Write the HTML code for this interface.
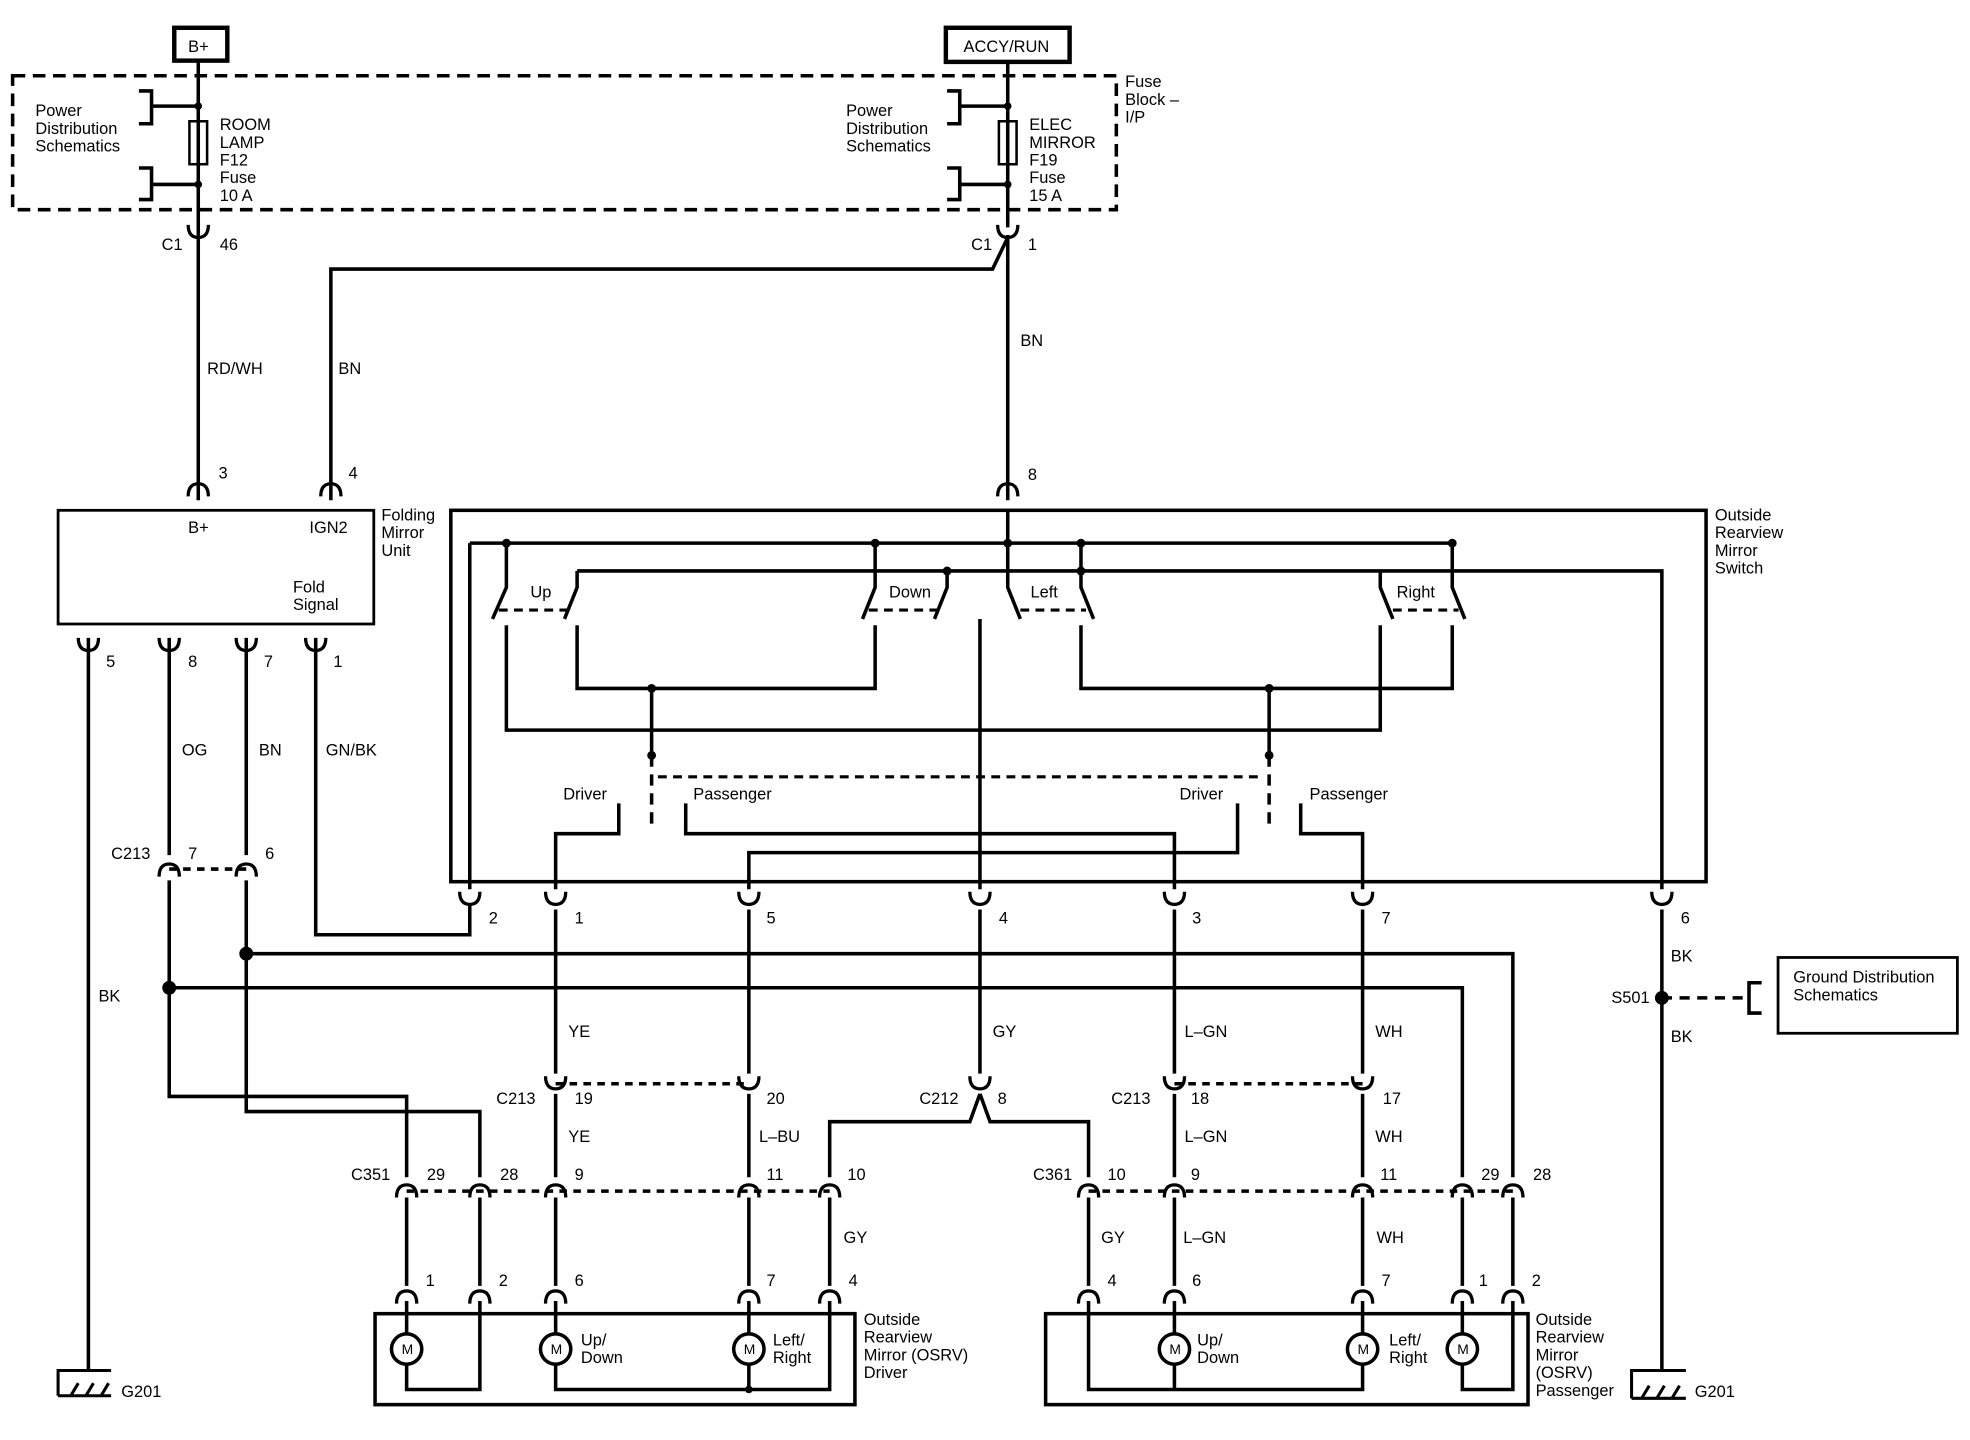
<!DOCTYPE html>
<html><head><meta charset="utf-8"><style>
html,body{margin:0;padding:0;background:#fff;}
svg{display:block}
text{font-family:"Liberation Sans",Arial,sans-serif;font-size:13px;fill:#000;}
</style></head><body>
<svg width="1970" height="1440" viewBox="0 0 1560 1140" preserveAspectRatio="none" xmlns="http://www.w3.org/2000/svg">
<defs>
<path id="cup" d="M-8,-8 Q-8,2 0,2 Q8,2 8,-8" fill="none" stroke="#000" stroke-width="2.6"/>
<path id="cap" d="M-8,8 Q-8,-2 0,-2 Q8,-2 8,8" fill="none" stroke="#000" stroke-width="2.6"/>
</defs>
<g fill="none" stroke="#000" stroke-width="2.8">
<!-- top boxes -->
<rect x="138" y="22" width="42" height="26" stroke-width="3.5"/>
<rect x="749" y="22" width="98" height="27" stroke-width="3.5"/>
<rect x="10" y="60" width="874" height="106" stroke-dasharray="10,6"/>
<!-- left fuse -->
<path d="M157 48V396"/>
<rect x="150" y="96" width="14" height="34" stroke-width="2"/>
<path d="M110 72H120V98H110M120 84H157M110 133H120V158H110M120 146H157"/>
<!-- right fuse -->
<path d="M798 49V180"/>
<rect x="791" y="96" width="14" height="34" stroke-width="2"/>
<path d="M750 72H760V98H750M760 84H798M750 133H760V158H750M760 146H798"/>
<path d="M798 186V396M798 188L786 213H262V396"/>
<!-- folding mirror unit -->
<rect x="46" y="404" width="250" height="90" stroke-width="2.2"/>
<path d="M70 505V1085M134 505V677M134 697V868H322V932M195 505V677M195 697V880H380V932M250 505V740H372V716"/>
<path d="M134 688H195" stroke-dasharray="6,5"/>
<path d="M134 782H1158V932M195 755H1198V932"/>
<!-- ground left -->
<path d="M46 1105V1085H88M46 1105H88M56 1105l6-10M68 1105l6-10M80 1105l6-10" stroke-width="2.4"/>
<!-- switch box -->
<rect x="357" y="404" width="994" height="294"/>
<path d="M372 430H1150M372 430V704"/>
<path d="M457 452H1316V704M1316 720V1085"/>
<!-- switch contacts -->
<path d="M401 430V465L390 490M457 452V465L447 490M401 495V578H1093V495M457 495V545H693V495"/>
<path d="M693 430V465L683 490M750 452V465L740 490M798 404V465L808 490M856 430V465L866 490"/>
<path d="M1093 452V465L1103 490M1150 430V465L1160 490M856 495V545H1150V495"/>
<path d="M395 483H450M688 483H745M808 483H860M1103 483H1155" stroke-dasharray="7,5" stroke-width="2.5"/>
<path d="M776 490V704"/>
<path d="M516 545V598M1005 545V598"/>
<path d="M516 598V655M1005 598V655" stroke-dasharray="9,6"/>
<path d="M521 615H1000" stroke-dasharray="7,5" stroke-width="2.5"/>
<path d="M490 636V660H440V704M543 636V660H930V704M980 636V675H593V704M1030 636V660H1079V704"/>
<!-- wires down -->
<path d="M440 720V850M593 720V850M776 720V850M930 720V850M1079 720V850"/>
<path d="M440 866V932M593 866V932M930 866V932M1079 866V932"/>
<path d="M776 866L768 888H657V932M776 866L784 888H862V932"/>
<path d="M440 858H593M930 858H1079" stroke-dasharray="6,5"/>
<path d="M322 943H657M862 943H1198" stroke-dasharray="6,5"/>
<path d="M322 948V1018M380 948V1018M440 948V1018M593 948V1018M657 948V1018"/>
<path d="M862 948V1018M930 948V1018M1079 948V1018M1158 948V1018M1198 948V1018"/>
<!-- driver mirror -->
<rect x="297" y="1040" width="380" height="72"/>
<path d="M322 1030V1056M322 1080V1100H380V1030M440 1030V1056M440 1080V1100H657V1030M593 1030V1056M593 1080V1100"/>
<circle cx="322" cy="1068" r="12"/><circle cx="440" cy="1068" r="12"/><circle cx="593" cy="1068" r="12"/>
<!-- passenger mirror -->
<rect x="828" y="1040" width="382" height="72"/>
<path d="M862 1030V1100H930V1080M930 1030V1056M1079 1030V1056M1079 1080V1100H930M1158 1030V1056M1158 1080V1100H1198V1030"/>
<circle cx="930" cy="1068" r="12"/><circle cx="1079" cy="1068" r="12"/><circle cx="1158" cy="1068" r="12"/>
<!-- S501 -->
<path d="M1316 790H1380" stroke-dasharray="8,6"/>
<path d="M1395 778H1385V802H1395"/>
<rect x="1408" y="758" width="142" height="60" stroke-width="2.2"/>
<path d="M1292 1107V1085H1335M1292 1107H1335M1300 1107l6-10M1312 1107l6-10M1324 1107l6-10" stroke-width="2.4"/>
</g>
<g fill="#000">
<circle cx="157" cy="84" r="3"/><circle cx="157" cy="146" r="3"/>
<circle cx="798" cy="84" r="3"/><circle cx="798" cy="146" r="3"/>
<circle cx="401" cy="430" r="3.5"/><circle cx="693" cy="430" r="3.5"/><circle cx="798" cy="430" r="3.5"/><circle cx="856" cy="430" r="3.5"/><circle cx="1150" cy="430" r="3.5"/>
<circle cx="750" cy="452" r="3.5"/><circle cx="856" cy="452" r="3.5"/>
<circle cx="516" cy="545" r="3.5"/><circle cx="1005" cy="545" r="3.5"/>
<circle cx="516" cy="598" r="3.5"/><circle cx="1005" cy="598" r="3.5"/>
<circle cx="134" cy="782" r="5.5"/><circle cx="195" cy="755" r="5.5"/><circle cx="1316" cy="790" r="5.5"/>
<circle cx="593" cy="1100" r="3"/>
</g>
<!-- connectors -->
<g>
<use href="#cup" x="157" y="186"/><use href="#cup" x="798" y="186"/>
<use href="#cap" x="157" y="385"/><use href="#cap" x="262" y="385"/><use href="#cap" x="798" y="385"/>
<use href="#cup" x="70" y="513"/><use href="#cup" x="134" y="513"/><use href="#cup" x="195" y="513"/><use href="#cup" x="250" y="513"/>
<use href="#cap" x="134" y="686"/><use href="#cap" x="195" y="686"/>
<use href="#cup" x="372" y="714"/><use href="#cup" x="440" y="714"/><use href="#cup" x="593" y="714"/><use href="#cup" x="776" y="714"/><use href="#cup" x="930" y="714"/><use href="#cup" x="1079" y="714"/><use href="#cup" x="1316" y="714"/>
<use href="#cup" x="440" y="860"/><use href="#cup" x="593" y="860"/><use href="#cup" x="776" y="860"/><use href="#cup" x="930" y="860"/><use href="#cup" x="1079" y="860"/>
<use href="#cap" x="322" y="940"/><use href="#cap" x="380" y="940"/><use href="#cap" x="440" y="940"/><use href="#cap" x="593" y="940"/><use href="#cap" x="657" y="940"/>
<use href="#cap" x="862" y="940"/><use href="#cap" x="930" y="940"/><use href="#cap" x="1079" y="940"/><use href="#cap" x="1158" y="940"/><use href="#cap" x="1198" y="940"/>
<use href="#cap" x="322" y="1024"/><use href="#cap" x="380" y="1024"/><use href="#cap" x="440" y="1024"/><use href="#cap" x="593" y="1024"/><use href="#cap" x="657" y="1024"/>
<use href="#cap" x="862" y="1024"/><use href="#cap" x="930" y="1024"/><use href="#cap" x="1079" y="1024"/><use href="#cap" x="1158" y="1024"/><use href="#cap" x="1198" y="1024"/>
</g>
<!-- text -->
<text x="149" y="41">B+</text>
<text x="763" y="41">ACCY/RUN</text>
<text x="28" y="92">Power</text><text x="28" y="106">Distribution</text><text x="28" y="120">Schematics</text>
<text x="174" y="103">ROOM</text><text x="174" y="117">LAMP</text><text x="174" y="131">F12</text><text x="174" y="145">Fuse</text><text x="174" y="159">10 A</text>
<text x="670" y="92">Power</text><text x="670" y="106">Distribution</text><text x="670" y="120">Schematics</text>
<text x="815" y="103">ELEC</text><text x="815" y="117">MIRROR</text><text x="815" y="131">F19</text><text x="815" y="145">Fuse</text><text x="815" y="159">15 A</text>
<text x="891" y="69">Fuse</text><text x="891" y="83">Block –</text><text x="891" y="97">I/P</text>
<text x="128" y="198">C1</text><text x="174" y="198">46</text>
<text x="769" y="198">C1</text><text x="814" y="198">1</text>
<text x="164" y="296">RD/WH</text><text x="268" y="296">BN</text><text x="808" y="274">BN</text>
<text x="173" y="379">3</text><text x="276" y="379">4</text><text x="814" y="380">8</text>
<text x="149" y="422">B+</text><text x="245" y="422">IGN2</text>
<text x="232" y="469">Fold</text><text x="232" y="483">Signal</text>
<text x="302" y="412">Folding</text><text x="302" y="426">Mirror</text><text x="302" y="440">Unit</text>
<text x="1358" y="412">Outside</text><text x="1358" y="426">Rearview</text><text x="1358" y="440">Mirror</text><text x="1358" y="454">Switch</text>
<text x="420" y="473">Up</text><text x="704" y="473">Down</text><text x="816" y="473">Left</text><text x="1106" y="473">Right</text>
<text x="446" y="633">Driver</text><text x="549" y="633">Passenger</text><text x="934" y="633">Driver</text><text x="1037" y="633">Passenger</text>
<text x="84" y="528">5</text><text x="149" y="528">8</text><text x="209" y="528">7</text><text x="264" y="528">1</text>
<text x="144" y="598">OG</text><text x="205" y="598">BN</text><text x="258" y="598">GN/BK</text>
<text x="88" y="680">C213</text><text x="149" y="680">7</text><text x="210" y="680">6</text>
<text x="78" y="793">BK</text>
<text x="387" y="731">2</text><text x="455" y="731">1</text><text x="607" y="731">5</text><text x="791" y="731">4</text><text x="944" y="731">3</text><text x="1094" y="731">7</text><text x="1331" y="731">6</text>
<text x="1323" y="761">BK</text><text x="1276" y="794">S501</text><text x="1323" y="825">BK</text>
<text x="1420" y="778">Ground Distribution</text><text x="1420" y="792">Schematics</text>
<text x="450" y="821">YE</text><text x="786" y="821">GY</text><text x="938" y="821">L–GN</text><text x="1089" y="821">WH</text>
<text x="393" y="874">C213</text><text x="455" y="874">19</text><text x="607" y="874">20</text>
<text x="728" y="874">C212</text><text x="790" y="874">8</text>
<text x="880" y="874">C213</text><text x="943" y="874">18</text><text x="1095" y="874">17</text>
<text x="450" y="904">YE</text><text x="601" y="904">L–BU</text><text x="938" y="904">L–GN</text><text x="1089" y="904">WH</text>
<text x="278" y="934">C351</text><text x="338" y="934">29</text><text x="396" y="934">28</text><text x="455" y="934">9</text><text x="607" y="934">11</text><text x="671" y="934">10</text>
<text x="818" y="934">C361</text><text x="877" y="934">10</text><text x="943" y="934">9</text><text x="1093" y="934">11</text><text x="1173" y="934">29</text><text x="1214" y="934">28</text>
<text x="668" y="984">GY</text><text x="872" y="984">GY</text><text x="937" y="984">L–GN</text><text x="1090" y="984">WH</text>
<text x="337" y="1018">1</text><text x="395" y="1018">2</text><text x="455" y="1018">6</text><text x="607" y="1018">7</text><text x="672" y="1018">4</text>
<text x="877" y="1018">4</text><text x="944" y="1018">6</text><text x="1094" y="1018">7</text><text x="1171" y="1018">1</text><text x="1213" y="1018">2</text>
<text x="318" y="1072" style="font-size:11px">M</text><text x="436" y="1072" style="font-size:11px">M</text><text x="589" y="1072" style="font-size:11px">M</text>
<text x="926" y="1072" style="font-size:11px">M</text><text x="1075" y="1072" style="font-size:11px">M</text><text x="1154" y="1072" style="font-size:11px">M</text>
<text x="460" y="1065">Up/</text><text x="460" y="1079">Down</text><text x="612" y="1065">Left/</text><text x="612" y="1079">Right</text>
<text x="948" y="1065">Up/</text><text x="948" y="1079">Down</text><text x="1100" y="1065">Left/</text><text x="1100" y="1079">Right</text>
<text x="684" y="1049">Outside</text><text x="684" y="1063">Rearview</text><text x="684" y="1077">Mirror (OSRV)</text><text x="684" y="1091">Driver</text>
<text x="1216" y="1049">Outside</text><text x="1216" y="1063">Rearview</text><text x="1216" y="1077">Mirror</text><text x="1216" y="1091">(OSRV)</text><text x="1216" y="1105">Passenger</text>
<text x="96" y="1106">G201</text><text x="1342" y="1106">G201</text>
</svg>
</body></html>
